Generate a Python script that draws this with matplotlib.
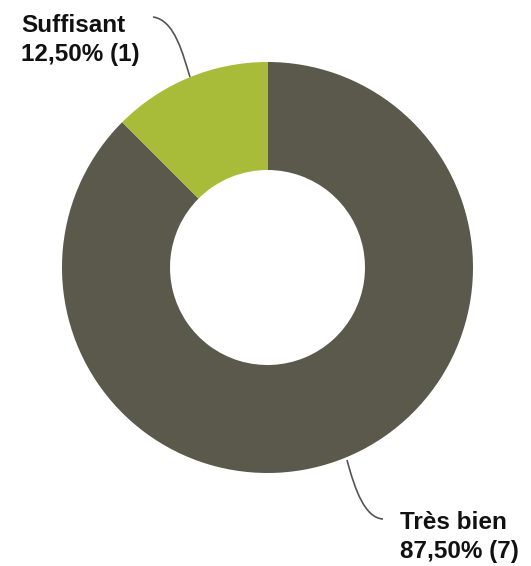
import matplotlib.pyplot as plt
from matplotlib.path import Path
from matplotlib.patches import PathPatch

labels = ['Très bien', 'Suffisant']
counts = [7, 1]
colors = ['#5a594b', '#a9bc3a']

total = sum(counts)

fig = plt.figure(figsize=(5.31, 5.66), dpi=100)
ax = fig.add_axes([0, 0, 1, 1])

cx, cy = 267.5, 566 - 267.5
R = 205.5
ax.pie(counts, colors=colors, startangle=90, counterclock=False,
       radius=R, center=(cx, cy), frame=True,
       wedgeprops=dict(width=R - 97.5, edgecolor='none'))
ax.set_xlim(0, 531)
ax.set_ylim(0, 566)
ax.axis('off')

font = dict(family='Liberation Sans', fontsize=17.5, fontweight='bold', color='#111111')

def pct(c):
    return '{:.2f}%'.format(100 * c / total).replace('.', ',') + ' ({})'.format(c)

# Suffisant label, top left
ax.text(21, 566 - 61, labels[1] + '\n' + pct(counts[1]), va='baseline', ha='left',
        linespacing=1.36, **font)
p = Path([(153, 566 - 17), (175, 566 - 20), (183, 566 - 55), (190, 566 - 77)],
         [Path.MOVETO, Path.CURVE4, Path.CURVE4, Path.CURVE4])
ax.add_patch(PathPatch(p, fill=False, color='#555555', lw=1.2))

# Très bien label, bottom right
ax.text(400, 566 - 558, labels[0] + '\n' + pct(counts[0]), va='baseline', ha='left',
        linespacing=1.36, **font)
p = Path([(347, 566 - 460), (355, 566 - 490), (365, 566 - 518), (383, 566 - 519)],
         [Path.MOVETO, Path.CURVE4, Path.CURVE4, Path.CURVE4])
ax.add_patch(PathPatch(p, fill=False, color='#555555', lw=1.2))

fig.savefig('out.png', dpi=100)
